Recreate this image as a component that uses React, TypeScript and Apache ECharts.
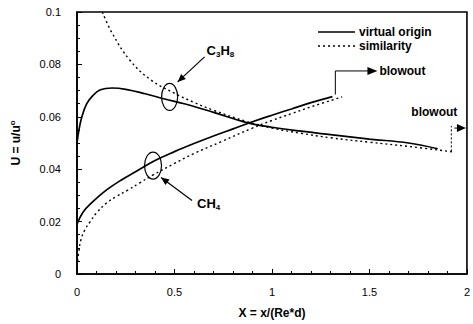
import React, { useEffect, useRef } from "react";
import * as echarts from "echarts";

// C3H8 - virtual origin (solid)
const C3H8_VO_X = [0, 0.01, 0.025, 0.05, 0.08, 0.12, 0.18, 0.25, 0.35, 0.45, 0.55, 0.7, 0.87, 1.0, 1.15, 1.3, 1.5, 1.7, 1.85];
const C3H8_VO_U = [0.05, 0.055, 0.06, 0.065, 0.068, 0.0703, 0.071, 0.0705, 0.0688, 0.0668, 0.065, 0.0617, 0.0578, 0.056, 0.0545, 0.0532, 0.0515, 0.05, 0.0478];
// C3H8 - similarity (dotted)
const C3H8_SIM_X = [0.13, 0.18, 0.27, 0.38, 0.5, 0.6, 0.7, 0.87, 1.0, 1.15, 1.3, 1.5, 1.7, 1.93];
const C3H8_SIM_U = [0.1, 0.092, 0.0817, 0.074, 0.069, 0.0655, 0.0625, 0.0582, 0.0557, 0.0537, 0.052, 0.0503, 0.0487, 0.0466];
// CH4 - virtual origin (solid)
const CH4_VO_X = [0, 0.03, 0.08, 0.15, 0.23, 0.3, 0.4, 0.5, 0.6, 0.7, 0.8, 0.9, 1.0, 1.1, 1.2, 1.31];
const CH4_VO_U = [0.019, 0.0235, 0.0275, 0.032, 0.036, 0.039, 0.0433, 0.0467, 0.0498, 0.0527, 0.0554, 0.0581, 0.0606, 0.063, 0.0654, 0.0677];
// CH4 - similarity (dotted)
const CH4_SIM_X = [0.003, 0.01, 0.02, 0.04, 0.066, 0.1, 0.15, 0.2, 0.26, 0.32, 0.39, 0.5, 0.6, 0.74, 0.9, 1.0, 1.1, 1.2, 1.36];
const CH4_SIM_U = [0.005, 0.009, 0.013, 0.0168, 0.0198, 0.0233, 0.027, 0.0295, 0.032, 0.0347, 0.0378, 0.0422, 0.046, 0.0505, 0.0557, 0.0586, 0.0612, 0.0638, 0.0676];

const X_TICKS = [0, 0.5, 1, 1.5, 2];
const Y_TICKS = [0, 0.02, 0.04, 0.06, 0.08, 0.1];

const LEGEND_LABELS = ["virtual origin", "similarity"];

// annotation anchors (data coordinates)
const C3H8_RING = [0.475, 0.0676];
const CH4_RING = [0.39, 0.0414];
const BLOWOUT1 = { x: 1.325, u0: 0.0685, u1: 0.0775, xEnd: 1.5 };
const BLOWOUT2 = { x: 1.92, u0: 0.0468, u1: 0.0565, arrowU: 0.0557, xEnd: 2.0 };

const FONT = "Liberation Sans, Arial, Helvetica, sans-serif";

function zip(xs: number[], ys: number[]) {
  return xs.map((x, i) => [x, ys[i]]);
}

function arrowHead(tip: number[], from: number[], len = 8, half = 3.5) {
  const dx = tip[0] - from[0];
  const dy = tip[1] - from[1];
  const d = Math.hypot(dx, dy) || 1;
  const ux = dx / d, uy = dy / d;
  const bx = tip[0] - ux * len, by = tip[1] - uy * len;
  return [
    [tip[0], tip[1]],
    [bx - uy * half, by + ux * half],
    [bx + uy * half, by - ux * half],
  ];
}

export default function App() {
  const ref = useRef<HTMLDivElement>(null);
  useEffect(() => {
    if (!ref.current) return;
    const chart = echarts.init(ref.current, null, { renderer: "svg" });
    const solid = { color: "#000", width: 1.7, type: "solid" as const };
    const dotted = { color: "#000", width: 1.4, type: [2, 3] as any };
    chart.setOption({
      animation: false,
      backgroundColor: "#fff",
      grid: { left: 74, right: 3, top: 12, bottom: 50, show: true, borderColor: "#000", borderWidth: 1.6 },
      xAxis: {
        type: "value",
        min: X_TICKS[0],
        max: X_TICKS[X_TICKS.length - 1],
        interval: 0.5,
        name: "X = x/(Re*d)",
        nameLocation: "middle",
        nameGap: 33,
        nameTextStyle: { fontFamily: FONT, fontSize: 12, fontWeight: "bold", color: "#000" },
        axisLine: { lineStyle: { color: "#000", width: 1.6 } },
        axisTick: { inside: true, length: 5, lineStyle: { color: "#000", width: 1 } },
        minorTick: { show: true, splitNumber: 5, length: 3, lineStyle: { color: "#000", width: 1 } },
        splitLine: { show: false },
        axisLabel: { fontFamily: FONT, fontSize: 11, color: "#000", margin: 12, formatter: (v: number) => String(v) },
      },
      yAxis: {
        type: "value",
        min: Y_TICKS[0],
        max: Y_TICKS[Y_TICKS.length - 1],
        interval: 0.02,
        name: "U = u/u{s|o}",
        nameLocation: "middle",
        nameGap: 54,
        nameRotate: 90,
        nameTextStyle: {
          fontFamily: FONT, fontSize: 12, fontWeight: "bold", color: "#000",
          rich: { s: { fontFamily: FONT, fontSize: 8, fontWeight: "bold", color: "#000", padding: [0, 0, 7, 0] } },
        },
        axisLine: { lineStyle: { color: "#000", width: 1.6 } },
        axisTick: { inside: true, length: 5, lineStyle: { color: "#000", width: 1 } },
        minorTick: { show: true, splitNumber: 4, length: 3, lineStyle: { color: "#000", width: 1 } },
        splitLine: { show: false },
        axisLabel: { fontFamily: FONT, fontSize: 11, color: "#000", margin: 16, formatter: (v: number) => String(Number(v.toFixed(3))) },
      },
      series: [
        { type: "line", name: "C3H8 virtual origin", data: zip(C3H8_VO_X, C3H8_VO_U), smooth: 0.4, showSymbol: false, lineStyle: solid },
        { type: "line", name: "C3H8 similarity", data: zip(C3H8_SIM_X, C3H8_SIM_U), smooth: 0.4, showSymbol: false, lineStyle: dotted },
        { type: "line", name: "CH4 virtual origin", data: zip(CH4_VO_X, CH4_VO_U), smooth: 0.4, showSymbol: false, lineStyle: solid },
        { type: "line", name: "CH4 similarity", data: zip(CH4_SIM_X, CH4_SIM_U), smooth: 0.4, showSymbol: false, lineStyle: dotted },
      ],
    });

    const P = (x: number, y: number) => chart.convertToPixel({ gridIndex: 0 }, [x, y]) as number[];
    const g: any[] = [];
    const ls = { stroke: "#000", lineWidth: 1.2, fill: "none" };

    // legend
    const lgX = 318, lgY = 32;
    g.push({ type: "line", shape: { x1: lgX, y1: lgY, x2: lgX + 37, y2: lgY }, style: { stroke: "#000", lineWidth: 1.7 } });
    g.push({ type: "text", x: lgX + 41, y: lgY, style: { text: LEGEND_LABELS[0], font: `bold 12px ${FONT}`, fill: "#000", verticalAlign: "middle" } });
    g.push({ type: "line", shape: { x1: lgX, y1: lgY + 14, x2: lgX + 37, y2: lgY + 14 }, style: { stroke: "#000", lineWidth: 1.3, lineDash: [2, 3] } });
    g.push({ type: "text", x: lgX + 41, y: lgY + 14, style: { text: LEGEND_LABELS[1], font: `bold 12px ${FONT}`, fill: "#000", verticalAlign: "middle" } });

    // C3H8 ring + arrow + label
    const c1 = P(C3H8_RING[0], C3H8_RING[1]);
    g.push({ type: "ellipse", shape: { cx: c1[0], cy: c1[1], rx: 8, ry: 13.5 }, style: ls });
    const a1from = [c1[0] + 35, c1[1] - 40], a1tip = [c1[0] + 8, c1[1] - 15];
    g.push({ type: "line", shape: { x1: a1from[0], y1: a1from[1], x2: a1tip[0], y2: a1tip[1] }, style: { stroke: "#000", lineWidth: 1.2 } });
    g.push({ type: "polygon", shape: { points: arrowHead(a1tip, a1from) }, style: { fill: "#000" } });
    g.push({
      type: "text", x: c1[0] + 37, y: c1[1] - 46,
      style: {
        text: "C{s|3}H{s|8}", font: `bold 13px ${FONT}`, fill: "#000", verticalAlign: "middle",
        rich: { s: { font: `bold 8px ${FONT}`, fill: "#000", padding: [8, 0, 0, 0] } },
      },
    });

    // CH4 ring + arrow + label
    const c2 = P(CH4_RING[0], CH4_RING[1]);
    g.push({ type: "ellipse", shape: { cx: c2[0], cy: c2[1], rx: 8.5, ry: 13.5 }, style: ls });
    const a2from = [c2[0] + 39, c2[1] + 35], a2tip = [c2[0] + 8, c2[1] + 12];
    g.push({ type: "line", shape: { x1: a2from[0], y1: a2from[1], x2: a2tip[0], y2: a2tip[1] }, style: { stroke: "#000", lineWidth: 1.2 } });
    g.push({ type: "polygon", shape: { points: arrowHead(a2tip, a2from) }, style: { fill: "#000" } });
    g.push({
      type: "text", x: c2[0] + 44, y: c2[1] + 38,
      style: {
        text: "CH{s|4}", font: `bold 13px ${FONT}`, fill: "#000", verticalAlign: "middle",
        rich: { s: { font: `bold 8px ${FONT}`, fill: "#000", padding: [8, 0, 0, 0] } },
      },
    });

    // blowout 1
    const b0 = P(BLOWOUT1.x, BLOWOUT1.u0), b1 = P(BLOWOUT1.x, BLOWOUT1.u1), b2 = P(BLOWOUT1.xEnd, BLOWOUT1.u1);
    g.push({ type: "polyline", shape: { points: [b0, b1, b2] }, style: { stroke: "#000", lineWidth: 1, fill: "none" } });
    g.push({ type: "polygon", shape: { points: arrowHead([b2[0] + 8, b2[1]], b2, 10, 4) }, style: { fill: "#000" } });
    g.push({ type: "text", x: b2[0] + 10, y: b2[1], style: { text: "blowout", font: `bold 12px ${FONT}`, fill: "#000", verticalAlign: "middle" } });

    // blowout 2
    const d0 = P(BLOWOUT2.x, BLOWOUT2.u0), d1 = P(BLOWOUT2.x, BLOWOUT2.u1);
    g.push({ type: "line", shape: { x1: d0[0], y1: d0[1], x2: d1[0], y2: d1[1] }, style: { stroke: "#000", lineWidth: 1, lineDash: [2, 2] } });
    const e0 = P(BLOWOUT2.x, BLOWOUT2.arrowU), e1 = P(BLOWOUT2.xEnd, BLOWOUT2.arrowU);
    g.push({ type: "line", shape: { x1: e0[0] + 3, y1: e0[1], x2: e1[0] - 4, y2: e1[1] }, style: { stroke: "#000", lineWidth: 1 } });
    g.push({ type: "polygon", shape: { points: arrowHead([e1[0] - 1, e1[1]], e0, 9, 4) }, style: { fill: "#000" } });
    g.push({ type: "text", x: d1[0] + 6, y: d1[1] - 14, style: { text: "blowout", font: `bold 12px ${FONT}`, fill: "#000", align: "right", verticalAlign: "middle" } });

    chart.setOption({ graphic: g });
    return () => chart.dispose();
  }, []);
  return <div ref={ref} style={{ width: 473, height: 324, position: "absolute", left: 0, top: 0 }} />;
}
